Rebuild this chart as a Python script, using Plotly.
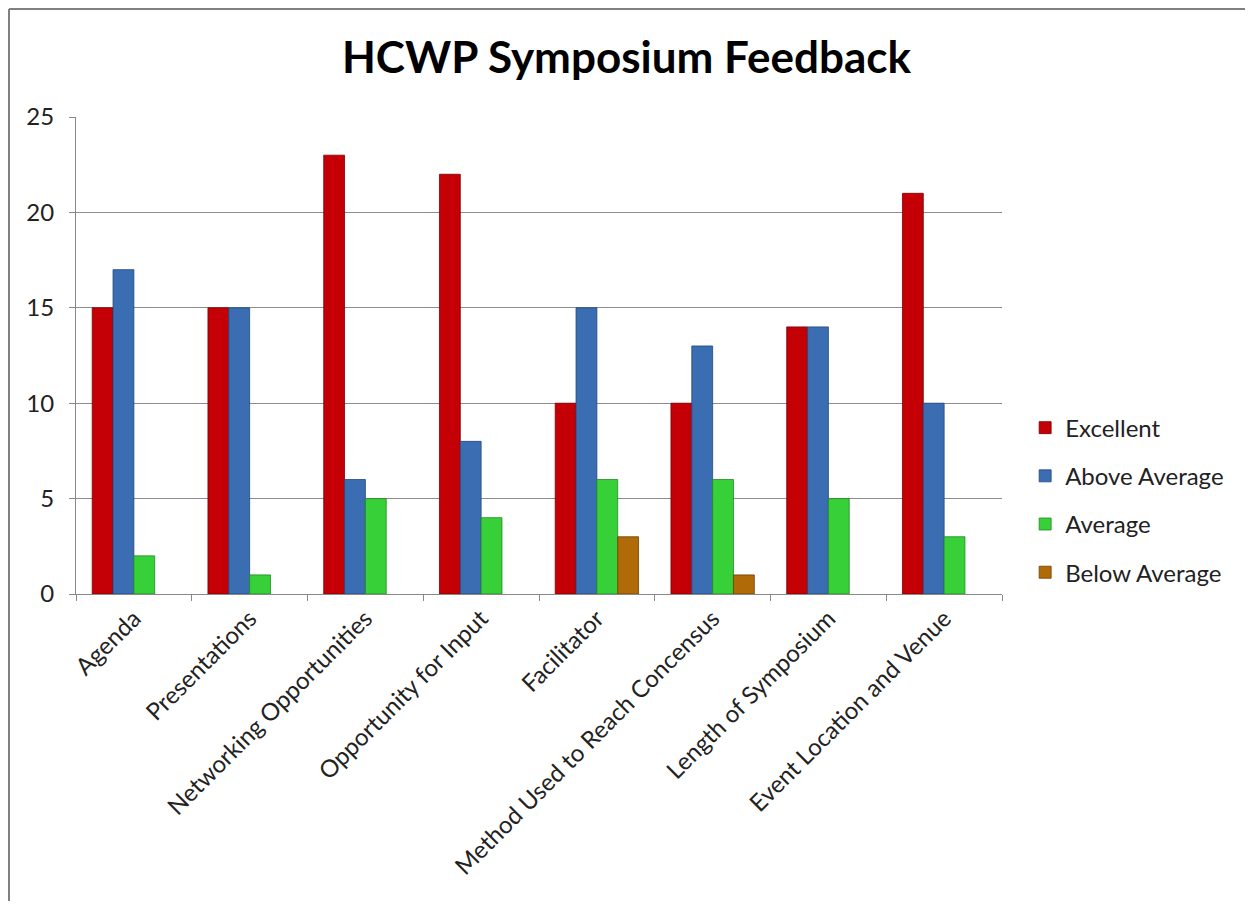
import plotly.graph_objects as go

categories = ["Agenda", "Presentations", "Networking Opportunities", "Opportunity for Input",
              "Facilitator", "Method Used to Reach Concensus", "Length of Symposium",
              "Event Location and Venue"]
excellent = [15, 15, 23, 22, 10, 10, 14, 21]
above_average = [17, 15, 6, 8, 15, 13, 14, 10]
average = [2, 1, 5, 4, 6, 6, 5, 3]
below_average = [0, 0, 0, 0, 3, 1, 0, 0]

series = [
    ("Excellent", excellent, "#C40006", "#7A0000"),
    ("Above Average", above_average, "#3B6DB3", "#22467A"),
    ("Average", average, "#38D038", "#1E8A1E"),
    ("Below Average", below_average, "#B06A08", "#6E4004"),
]

fig = go.Figure()
for name, vals, col, lc in series:
    # zero values keep their slot in the group but draw nothing
    shown = [v if v else None for v in vals]
    fig.add_trace(go.Bar(
        x=categories, y=shown, name=name, legendgroup=name,
        marker=dict(color=col, line=dict(color=lc, width=0.8)),
    ))

font_family = "Lato, 'Liberation Sans', sans-serif"
W, H = 1237, 893
L, T, PW, PH = 68, 109, 926, 477
left_x = (1 - L) / PW
top_y = (T + PH - 1) / PH
fig.update_layout(
    width=W, height=H,
    paper_bgcolor="white", plot_bgcolor="white",
    margin=dict(l=L, r=W - L - PW, t=T, b=H - T - PH),
    barmode="group", bargap=0.28, bargroupgap=0,
    title=dict(text="<b>HCWP Symposium Feedback</b>", x=0.5, xanchor="center",
               y=(H - 50) / H, yanchor="middle",
               font=dict(family=font_family, size=44, color="black")),
    font=dict(family=font_family, size=24, color="#222222"),
    legend=dict(x=1.025, y=0.197, xanchor="left", yanchor="middle",
                tracegroupgap=14, font=dict(size=24, color="#222222"),
                itemwidth=30, bgcolor="rgba(0,0,0,0)"),
    showlegend=True,
    xaxis=dict(tickangle=-45, showline=True, linecolor="#888888", linewidth=1,
               ticks="outside", tickson="boundaries", ticklen=6, tickcolor="#888888",
               tickfont=dict(size=24, color="#222222"), showgrid=False),
    yaxis=dict(range=[0, 25], dtick=5, showline=True, linecolor="#888888", linewidth=1,
               ticks="outside", ticklen=6, tickcolor="#888888", ticklabelstandoff=10,
               showgrid=True, gridcolor="#8C8C8C", gridwidth=1, zeroline=False,
               tickfont=dict(size=24, color="#222222")),
    shapes=[
        dict(type="line", xref="paper", yref="paper",
             x0=left_x, x1=left_x, y0=(T + PH - H) / PH, y1=top_y,
             line=dict(color="#808080", width=2), layer="below"),
        dict(type="line", xref="paper", yref="paper",
             x0=left_x, x1=(W - L) / PW, y0=top_y, y1=top_y,
             line=dict(color="#808080", width=2), layer="below"),
    ],
)

fig.write_html("out.html")
